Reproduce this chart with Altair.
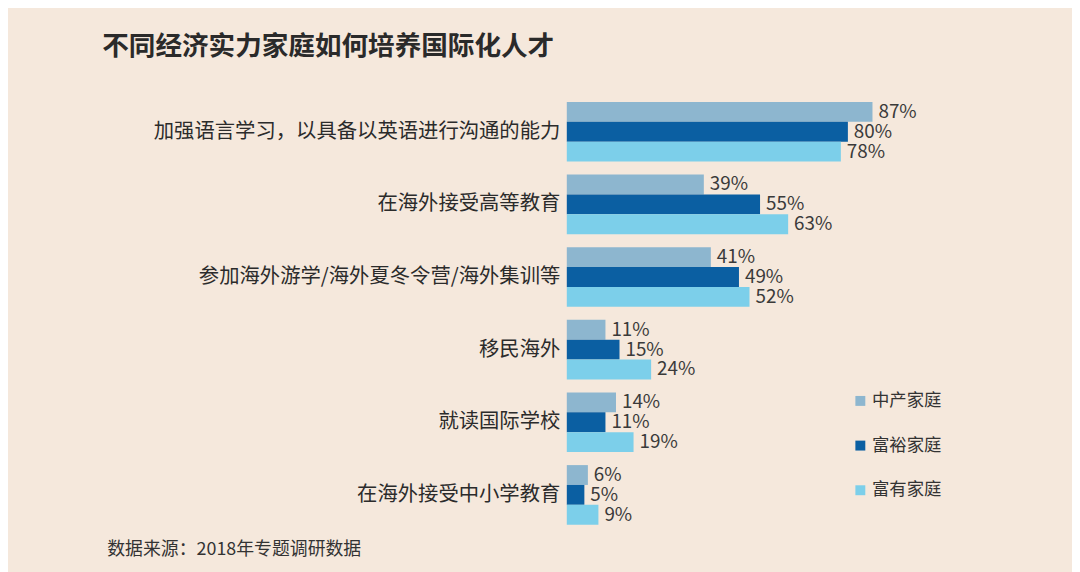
import altair as alt
import pandas as pd

categories = [
    "加强语言学习，以具备以英语进行沟通的能力",
    "在海外接受高等教育",
    "参加海外游学/海外夏冬令营/海外集训等",
    "移民海外",
    "就读国际学校",
    "在海外接受中小学教育",
]
series = ["中产家庭", "富裕家庭", "富有家庭"]
middle = [87, 39, 41, 11, 14, 6]
affluent = [80, 55, 49, 15, 11, 5]
wealthy = [78, 63, 52, 24, 19, 9]
colors = ["#8db6cf", "#0b5fa2", "#7ccfea"]

rows = []
for i, c in enumerate(categories):
    for s, vals in zip(series, [middle, affluent, wealthy]):
        rows.append({"cat": c, "series": s, "value": vals[i], "label": f"{vals[i]}%"})
df = pd.DataFrame(rows)

FONT = "Noto Sans CJK SC"
BG = "#f5e8dc"

y = alt.Y("cat:N", sort=categories, title=None,
          scale=alt.Scale(paddingInner=0.18, paddingOuter=0.09),
          axis=alt.Axis(domain=False, ticks=False, labelFontSize=20.5, labelColor="#2b2b2b",
                        labelPadding=7, labelFont=FONT, labelLimit=600))
yoff = alt.YOffset("series:N", sort=series, scale=alt.Scale(paddingInner=0, paddingOuter=0))
x = alt.X("value:Q", scale=alt.Scale(domain=[0, 100]), axis=None)

bars = alt.Chart(df).mark_bar(size=20).encode(
    y=y, yOffset=yoff, x=x,
    color=alt.Color("series:N", sort=series,
                    scale=alt.Scale(domain=series, range=colors),
                    legend=alt.Legend(title=None, orient="none", legendX=287, legendY=299,
                                      symbolType="square", symbolSize=100, symbolStrokeWidth=0,
                                      labelFontSize=17.5, labelFont=FONT, labelColor="#333333",
                                      rowPadding=26, labelOffset=3)),
)

labels = alt.Chart(df).mark_text(align="left", baseline="middle", dx=6, fontSize=19,
                                 font=FONT, color="#3a3a3a").encode(
    y=y, yOffset=yoff, x=x, text="label:N"
)

source = alt.Chart(pd.DataFrame({"t": ["数据来源：2018年专题调研数据"]})).mark_text(
    align="left", baseline="middle", fontSize=18, font=FONT, color="#333333"
).encode(x=alt.value(-463), y=alt.value(458), text="t:N")

chart = alt.layer(bars, labels, source).properties(
    width=354, height=439,
    background=BG,
    padding={"left": 563, "top": 86, "right": 155, "bottom": 39},
    autosize=alt.AutoSizeParams(type="none"),
    title=alt.TitleParams("不同经济实力家庭如何培养国际化人才", anchor="start", frame="group",
                          dx=-468, offset=35, fontSize=26.8, fontWeight="bold", font=FONT,
                          color="#2a2a2a"),
).configure_view(stroke=None)

chart.save("out.html", embed_options={"renderer": "svg", "actions": False})
